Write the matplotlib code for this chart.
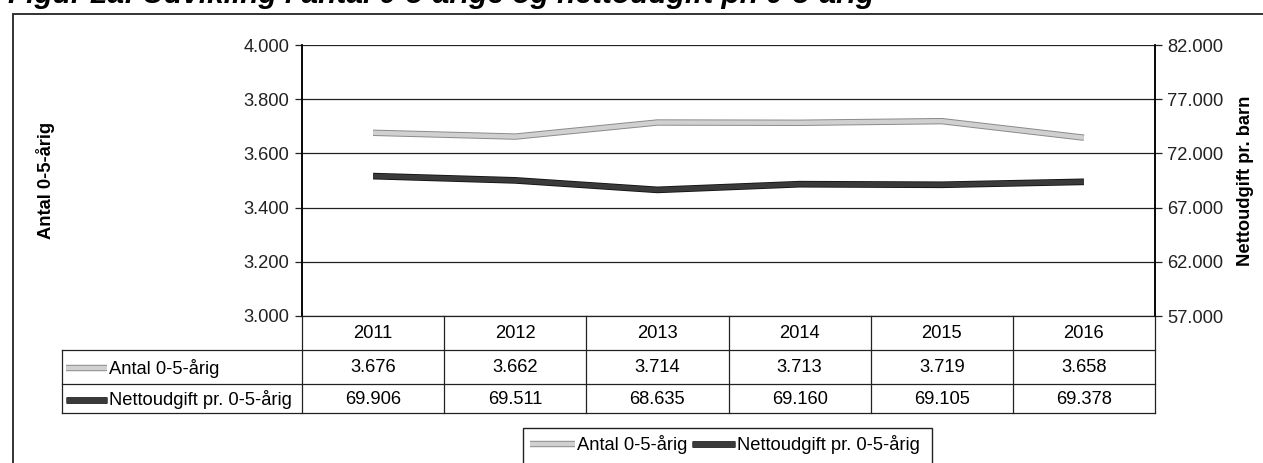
import matplotlib
matplotlib.use("Agg")
import matplotlib.pyplot as plt
import matplotlib.patheffects as pe
from matplotlib.lines import Line2D

plt.rcParams['font.family'] = ['Liberation Sans', 'DejaVu Sans']

years = ['2011', '2012', '2013', '2014', '2015', '2016']
antal = [3676, 3662, 3714, 3713, 3719, 3658]
netto = [69906, 69511, 68635, 69160, 69105, 69378]
series_names = ['Antal 0-5-årig', 'Nettoudgift pr. 0-5-årig']
title = 'Figur 2a: Udvikling i antal 0-5-årige og nettoudgift pr. 0-5-årig'


def fmt(v):
    return f"{v:,}".replace(',', '.')


W, H = 1263, 463
FS = 13.2
fig = plt.figure(figsize=(W / 100, H / 100), dpi=100)


def box(x0, y0, x1, y1):
    # pixel coords (top-left origin) -> figure fraction
    return [x0 / W, 1 - y1 / H, (x1 - x0) / W, (y1 - y0) / H]


light = dict(color='#d0d0d0', lw=3.2,
             path_effects=[pe.Stroke(linewidth=4.6, foreground='#8a8a8a'), pe.Normal()])
dark = dict(color='#3a3a3a', lw=3.6,
            path_effects=[pe.Stroke(linewidth=4.8, foreground='#111111'), pe.Normal()])

# outer frame (runs off the right and bottom edge like the scan)
fig.add_artist(plt.Rectangle((13 / W, -0.1), 1.2, 1 - 14 / H + 0.1,
                             transform=fig.transFigure, fill=False, lw=1.3, ec='#222222'))
fig.text(8 / W, 1 - 3 / H, title, fontsize=21.5, fontweight='bold', style='italic',
         va='baseline', ha='left')

x0, x1, ytop, ybot = 302, 1155, 45, 316
ax = fig.add_axes(box(x0, ytop, x1, ybot))
ax2 = ax.twinx()
xs = list(range(len(years)))
ax.plot(xs, antal, solid_capstyle='butt', **light)
ax2.plot(xs, netto, solid_capstyle='butt', **dark)
ax.set_xlim(-0.5, len(years) - 0.5)
ax.set_ylim(3000, 4000)
ax2.set_ylim(57000, 82000)
ax.set_yticks(range(3000, 4001, 200))
ax2.set_yticks(range(57000, 82001, 5000))
ax.set_yticklabels([fmt(v) for v in range(3000, 4001, 200)], fontsize=FS)
ax2.set_yticklabels([fmt(v) for v in range(57000, 82001, 5000)], fontsize=FS)
ax.set_xticks([])
ax.grid(axis='y', color='#222222', lw=0.9)
ax.set_axisbelow(True)
for a in (ax, ax2):
    a.spines['top'].set_visible(False)
    a.spines['bottom'].set_visible(False)
    a.spines['left'].set_linewidth(1.1)
    a.spines['right'].set_linewidth(1.1)
    a.tick_params(axis='y', length=5, width=0.9, pad=4, colors='#222222')
ax.set_zorder(ax2.get_zorder() + 1)
ax.patch.set_visible(False)
ax.set_ylabel('Antal 0-5-årig', fontsize=FS, fontweight='bold', labelpad=0)
ax.yaxis.set_label_coords(-(302 - 55) / (x1 - x0), 0.5)
ax2.set_ylabel('Nettoudgift pr. barn', fontsize=FS, fontweight='bold')
ax2.yaxis.set_label_coords(1 + (1237 - 1155) / (x1 - x0), 0.5)

# data table
tx = fig.add_axes([0, 0, 1, 1])
tx.set_xlim(0, W)
tx.set_ylim(H, 0)
tx.axis('off')
colw = (x1 - x0) / len(years)
rows = [316, 350, 384, 413]
left = 62
lw = 0.9
for i in range(len(years) + 1):
    tx.plot([x0 + i * colw] * 2, [rows[0], rows[3]], color='#222222', lw=lw)
tx.plot([left, left], [rows[1], rows[3]], color='#222222', lw=lw)
tx.plot([x0, x1], [rows[0], rows[0]], color='#222222', lw=lw)
for r in rows[1:]:
    tx.plot([left, x1], [r, r], color='#222222', lw=lw)
for i, y in enumerate(years):
    cx = x0 + (i + 0.5) * colw
    tx.text(cx, (rows[0] + rows[1]) / 2 + 1, y, ha='center', va='center', fontsize=FS)
    tx.text(cx, (rows[1] + rows[2]) / 2 + 1, fmt(antal[i]), ha='center', va='center', fontsize=FS)
    tx.text(cx, (rows[2] + rows[3]) / 2 + 1, fmt(netto[i]), ha='center', va='center', fontsize=FS)
for k, (name, st) in enumerate(zip(series_names, (light, dark))):
    yc = (rows[k + 1] + rows[k + 2]) / 2 + 1
    tx.add_line(Line2D([66, 107], [yc, yc], solid_capstyle='butt', **st))
    tx.text(109, yc, name, ha='left', va='center', fontsize=FS)

# legend box
lx0, lx1, ly0, ly1 = 523, 932, 428, 472
tx.add_patch(plt.Rectangle((lx0, ly0), lx1 - lx0, ly1 - ly0, fill=False, ec='#222222', lw=1))
ly = 444
tx.add_line(Line2D([530, 575], [ly, ly], solid_capstyle='butt', **light))
tx.text(577, ly, series_names[0], ha='left', va='center', fontsize=FS)
tx.add_line(Line2D([692, 735], [ly, ly], solid_capstyle='butt', **dark))
tx.text(737, ly, series_names[1], ha='left', va='center', fontsize=FS)

fig.savefig('out.png', dpi=100)
